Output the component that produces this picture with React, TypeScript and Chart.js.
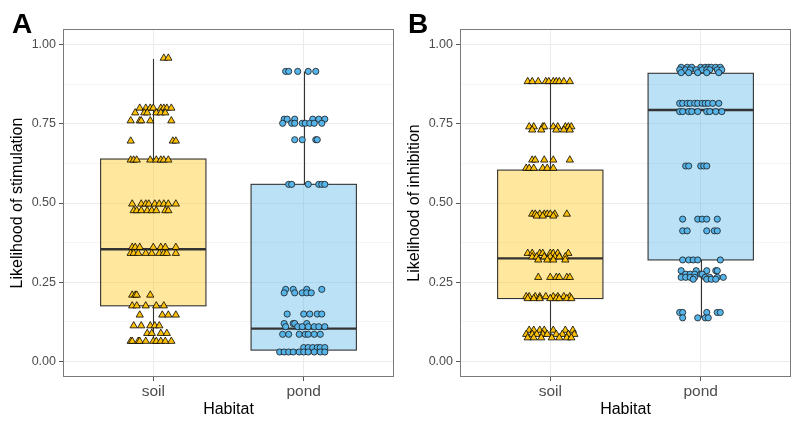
import React, { useEffect, useRef } from 'react';
import { Chart, registerables } from 'chart.js';

Chart.register(...registerables);

const categories = ['soil', 'pond'];
const yTickValues = [0, 0.125, 0.25, 0.375, 0.5, 0.625, 0.75, 0.875, 1];

// each level: [value, jitter offsets along the category axis]
type Level = [number, number[]];

const soilStimulation: Level[] = [
  [0.958, [0.07, 0.1]],
  [0.8, [-0.09, -0.05, -0.02, 0.0, 0.05, 0.07, 0.09, 0.12]],
  [0.785, [-0.12, -0.06, -0.04, 0.02, 0.05, 0.08]],
  [0.76, [-0.15, -0.09, -0.08, -0.02, 0.12]],
  [0.696, [-0.15, 0.13, 0.15]],
  [0.636, [-0.15, -0.13, -0.11, -0.02, 0.02, 0.05, 0.07, 0.1]],
  [0.497, [-0.14, -0.08, -0.05, -0.03, 0.01, 0.04, 0.07, 0.1, 0.15]],
  [0.476, [-0.13, -0.11, -0.08, -0.04, -0.01, 0.02, 0.08, 0.1]],
  [0.36, [-0.14, -0.12, -0.09, 0.0, 0.05, 0.08, 0.15]],
  [0.341, [-0.15, -0.13, -0.1, -0.05, -0.01, 0.04, 0.07, 0.09, 0.15]],
  [0.209, [-0.14, -0.12, -0.11, -0.02]],
  [0.175, [-0.14, -0.11, -0.05, 0.02, 0.07]],
  [0.146, [-0.09, 0.06, 0.1, 0.15]],
  [0.112, [-0.13, -0.08, -0.02, 0.01, 0.04]],
  [0.088, [-0.04, -0.01, 0.05, 0.09]],
  [0.063, [-0.15, -0.14, -0.1, -0.09, -0.05, 0.0, 0.02, 0.05, 0.08, 0.12]],
];

const pondStimulation: Level[] = [
  [0.916, [-0.12, -0.1, -0.04, 0.03, 0.08]],
  [0.765, [-0.13, -0.11, -0.06, 0.06, 0.1, 0.14]],
  [0.752, [-0.14, -0.08, -0.06, -0.01, 0.01, 0.04, 0.07, 0.12]],
  [0.7, [-0.06, -0.01, 0.08, 0.09]],
  [0.559, [-0.1, -0.08, 0.03, 0.1, 0.12, 0.14]],
  [0.227, [-0.12, -0.07, 0.02, 0.12]],
  [0.216, [-0.13, -0.06, -0.01, 0.02, 0.05]],
  [0.149, [-0.11, 0.0, 0.04, 0.09, 0.12]],
  [0.119, [-0.13, -0.07, -0.06, 0.02]],
  [0.109, [-0.12, -0.04, -0.01, 0.03, 0.07, 0.1, 0.14]],
  [0.085, [-0.14, -0.1, -0.03, 0.01, 0.03, 0.07, 0.11]],
  [0.043, [0.0, 0.03, 0.06, 0.09, 0.11, 0.14]],
  [0.029, [-0.16, -0.13, -0.1, -0.07, -0.03, 0.0, 0.03, 0.07, 0.11, 0.14]],
];

const soilInhibition: Level[] = [
  [0.884, [-0.15, -0.12, -0.08, -0.03, -0.01, 0.02, 0.04, 0.06, 0.09, 0.13]],
  [0.741, [-0.14, -0.11, -0.05, -0.04, 0.02, 0.05, 0.1, 0.12, 0.14]],
  [0.731, [-0.12, -0.06, 0.04, 0.09, 0.13]],
  [0.636, [-0.12, -0.1, -0.04, 0.02, 0.13]],
  [0.61, [-0.16, -0.14, -0.11, -0.05, -0.02, 0.02]],
  [0.465, [-0.12, -0.1, -0.07, -0.04, -0.02, 0.0, 0.03, 0.11]],
  [0.459, [-0.09, -0.05, 0.02]],
  [0.341, [-0.15, -0.12, -0.07, -0.05, 0.0, 0.02, 0.05, 0.12]],
  [0.33, [-0.12, -0.09, -0.04, 0.0, 0.03, 0.06, 0.1]],
  [0.32, [-0.08, -0.02, 0.02, 0.1]],
  [0.265, [-0.08, 0.0, 0.04, 0.06, 0.11, 0.13]],
  [0.204, [-0.16, -0.14, -0.1, -0.07, -0.03, 0.02, 0.05, 0.09, 0.13]],
  [0.198, [-0.15, -0.11, -0.07, 0.0, 0.04, 0.06, 0.11, 0.14]],
  [0.098, [-0.14, -0.11, -0.07, -0.04, 0.02, 0.1, 0.15]],
  [0.085, [-0.16, -0.12, -0.09, -0.05, -0.02, 0.04, 0.08, 0.12, 0.16]],
  [0.074, [-0.15, -0.11, -0.06, 0.01, 0.06, 0.11, 0.14]],
];

const pondInhibition: Level[] = [
  [0.929, [-0.13, -0.09, -0.06, 0.0, 0.03, 0.05, 0.07, 0.1, 0.13]],
  [0.921, [-0.14, -0.1, -0.07, -0.03, 0.01, 0.04, 0.06, 0.11, 0.14]],
  [0.912, [-0.13, -0.08, -0.02, 0.04, 0.12]],
  [0.815, [-0.14, -0.12, -0.09, -0.07, -0.04, -0.02, 0.01, 0.03, 0.05, 0.08, 0.12]],
  [0.789, [-0.14, -0.12, -0.08, -0.06, -0.02, 0.04, 0.06, 0.1, 0.14]],
  [0.617, [-0.1, -0.08, 0.0, 0.02, 0.04]],
  [0.449, [-0.12, -0.02, 0.01, 0.04, 0.11]],
  [0.412, [-0.12, -0.09, 0.04, 0.09, 0.11]],
  [0.32, [-0.12, -0.08, -0.05, -0.02, 0.13]],
  [0.286, [-0.13, -0.03, 0.04, 0.1, 0.11]],
  [0.275, [-0.1, -0.07, -0.04, 0.0, 0.01]],
  [0.265, [-0.13, -0.1, -0.07, -0.04, 0.03, 0.06, 0.11, 0.15]],
  [0.259, [-0.05, 0.04, 0.07, 0.1]],
  [0.154, [-0.14, -0.12, 0.04, 0.11, 0.13]],
  [0.137, [-0.12, -0.02, 0.03, 0.05]],
];

// box statistics: [lower whisker, Q1, median, Q3, upper whisker]
const soilStimulationBox = [0.063, 0.175, 0.354, 0.639, 0.955];
const pondStimulationBox = [0.029, 0.035, 0.103, 0.559, 0.916];
const soilInhibitionBox = [0.075, 0.198, 0.325, 0.604, 0.884];
const pondInhibitionBox = [0.137, 0.32, 0.794, 0.91, 0.93];

const FONT = "'Liberation Sans', Arial, Helvetica, sans-serif";
const SOIL_POINT = '#FFC20A';
const POND_POINT = '#56B4E9';
const SOIL_FILL = 'rgba(255,194,10,0.4)';
const POND_FILL = 'rgba(86,180,233,0.4)';

function toPoints(levels: Level[], center: number) {
  const pts: { x: number; y: number }[] = [];
  levels.forEach(([y, dxs]) => dxs.forEach((dx) => pts.push({ x: center + dx, y })));
  return pts;
}

const isMajor = (v: number) => Math.abs(v * 4 - Math.round(v * 4)) < 1e-6;

type PanelProps = {
  tag: string;
  tagX: number;
  yTitle: string;
  soil: Level[];
  pond: Level[];
  soilBox: number[];
  pondBox: number[];
  yAxisWidth: number;
  rightPad: number;
  titlePad: number;
};

function Panel(p: PanelProps) {
  const ref = useRef<HTMLCanvasElement | null>(null);
  useEffect(() => {
    if (!ref.current) return;
    const boxes = [
      { stats: p.soilBox, fill: SOIL_FILL },
      { stats: p.pondBox, fill: POND_FILL },
    ];
    const boxPlugin = {
      id: 'boxes',
      beforeDatasetsDraw(chart: any) {
        const { ctx } = chart;
        const x = chart.scales.x;
        const y = chart.scales.y;
        ctx.save();
        boxes.forEach((b, i) => {
          const c = i + 1;
          const [lo, q1, med, q3, hi] = b.stats;
          const cx = Math.round(x.getPixelForValue(c)) + 0.5;
          const l = x.getPixelForValue(c - 0.35);
          const r = x.getPixelForValue(c + 0.35);
          const yq1 = y.getPixelForValue(q1);
          const yq3 = y.getPixelForValue(q3);
          ctx.strokeStyle = '#333333';
          ctx.lineWidth = 1.1;
          ctx.beginPath();
          ctx.moveTo(cx, y.getPixelForValue(hi));
          ctx.lineTo(cx, yq3);
          ctx.moveTo(cx, yq1);
          ctx.lineTo(cx, y.getPixelForValue(lo));
          ctx.stroke();
          ctx.fillStyle = b.fill;
          ctx.fillRect(l, yq3, r - l, yq1 - yq3);
          ctx.strokeRect(l, yq3, r - l, yq1 - yq3);
          ctx.lineWidth = 2.4;
          ctx.beginPath();
          const ym = y.getPixelForValue(med);
          ctx.moveTo(l, ym);
          ctx.lineTo(r, ym);
          ctx.stroke();
        });
        ctx.restore();
      },
      afterDraw(chart: any) {
        const { ctx, chartArea: a } = chart;
        ctx.save();
        ctx.strokeStyle = '#7a7a7a';
        ctx.lineWidth = 1;
        ctx.strokeRect(Math.round(a.left) + 0.5, Math.round(a.top) + 0.5, Math.round(a.right - a.left) - 1, Math.round(a.bottom - a.top) - 1);
        ctx.fillStyle = '#000';
        ctx.font = `bold 28px ${FONT}`;
        ctx.textBaseline = 'alphabetic';
        ctx.textAlign = 'left';
        ctx.fillText(p.tag, p.tagX, 33);
        ctx.restore();
      },
    };
    const chart = new Chart(ref.current, {
      type: 'scatter',
      data: {
        datasets: [
          {
            data: toPoints(p.soil, 1),
            pointStyle: 'triangle',
            pointRadius: 4.2,
            backgroundColor: SOIL_POINT,
            borderColor: '#000000',
            borderWidth: 0.8,
          },
          {
            data: toPoints(p.pond, 2),
            pointStyle: 'circle',
            pointRadius: 3.1,
            backgroundColor: POND_POINT,
            borderColor: '#1a1a1a',
            borderWidth: 0.8,
          },
        ],
      },
      options: {
        animation: false,
        responsive: false,
        devicePixelRatio: 1,
        events: [],
        layout: { padding: { left: 0, right: p.rightPad, top: 29, bottom: 0 } },
        plugins: { legend: { display: false }, tooltip: { enabled: false } },
        scales: {
          x: {
            type: 'linear',
            min: 0.4,
            max: 2.6,
            afterBuildTicks: (s: any) => {
              s.ticks = categories.map((_, i) => ({ value: i + 1 }));
            },
            afterFit: (s: any) => {
              s.height = 46;
            },
            ticks: {
              callback: (v: any) => categories[Math.round(Number(v)) - 1] ?? '',
              font: { family: FONT, size: 15.5 },
              color: '#4D4D4D',
              padding: 1,
              autoSkip: false,
              maxRotation: 0,
            },
            grid: { color: '#EBEBEB', lineWidth: 1, tickLength: 4, tickColor: '#555555' },
            border: { display: false },
            title: {
              display: true,
              text: 'Habitat',
              font: { family: FONT, size: 16 },
              color: '#000000',
              padding: { top: 0, bottom: 4 },
            },
          },
          y: {
            type: 'linear',
            min: -0.05,
            max: 1.05,
            afterBuildTicks: (s: any) => {
              s.ticks = yTickValues.map((v) => ({ value: v }));
            },
            afterFit: (s: any) => {
              s.width = p.yAxisWidth;
            },
            ticks: {
              callback: (v: any) => (isMajor(Number(v)) ? Number(v).toFixed(2) : ''),
              font: { family: FONT, size: 12.5 },
              color: '#4D4D4D',
              padding: 3,
              autoSkip: false,
            },
            grid: {
              color: (c: any) => (isMajor(c.tick.value) ? '#EBEBEB' : '#F4F4F4'),
              lineWidth: 1,
              tickLength: 4,
              tickColor: (c: any) => (isMajor(c.tick.value) ? '#555555' : 'rgba(0,0,0,0)'),
            },
            border: { display: false },
            title: {
              display: true,
              text: p.yTitle,
              font: { family: FONT, size: 16 },
              color: '#000000',
              padding: { top: p.titlePad, bottom: 0 },
            },
          },
        },
      },
      plugins: [boxPlugin],
    } as any);
    return () => chart.destroy();
  }, []);
  return <canvas ref={ref} width={400} height={423} style={{ display: 'block', width: 400, height: 423 }} />;
}

export default function App() {
  return (
    <div style={{ position: 'fixed', left: 0, top: 0, width: 800, height: 423, background: '#fff', display: 'flex' }}>
      <Panel
        tag="A"
        tagX={12}
        yTitle="Likelihood of stimulation"
        soil={soilStimulation}
        pond={pondStimulation}
        soilBox={soilStimulationBox}
        pondBox={pondStimulationBox}
        yAxisWidth={63}
        rightPad={6}
        titlePad={8}
      />
      <Panel
        tag="B"
        tagX={8}
        yTitle="Likelihood of inhibition"
        soil={soilInhibition}
        pond={pondInhibition}
        soilBox={soilInhibitionBox}
        pondBox={pondInhibitionBox}
        yAxisWidth={60}
        rightPad={9}
        titlePad={5}
      />
    </div>
  );
}
